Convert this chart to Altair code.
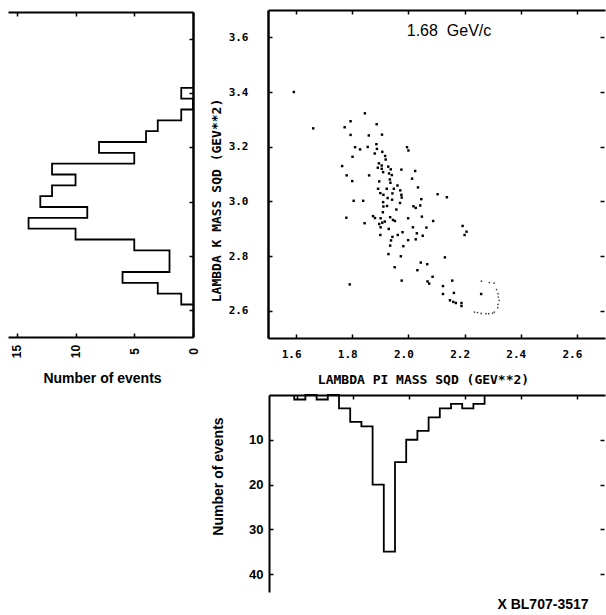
import altair as alt
import pandas as pd

# Events: Lambda-pi mass squared (x) and Lambda-K mass squared (y), GeV^2
event_m2_lpi = [
    1.592, 1.661, 1.845, 1.794, 1.773, 1.887, 1.794, 1.859, 1.906, 1.810,
    1.828, 1.855, 1.886, 1.888, 1.880, 1.907, 1.995, 2.000, 1.801, 1.917,
    1.919, 1.895, 1.764, 1.891, 1.905, 1.905, 1.928, 1.937, 1.975, 2.024,
    1.910, 1.931, 1.941, 1.780, 1.860, 2.013, 1.934, 1.800, 1.896, 1.936,
    1.961, 2.034, 1.892, 1.923, 1.948, 1.971, 1.900, 1.911, 1.943, 1.975,
    1.926, 1.942, 1.976, 2.104, 1.805, 1.839, 1.910, 1.970, 2.046, 1.911,
    1.924, 2.018, 2.026, 2.042, 1.957, 1.909, 1.779, 1.874, 1.881, 1.901,
    1.935, 1.945, 1.952, 1.999, 2.048, 2.088, 1.844, 1.896, 1.907, 1.916,
    1.901, 1.930, 2.016, 2.064, 1.979, 2.030, 1.900, 1.962, 1.943, 2.051,
    1.938, 1.999, 2.026, 1.935, 1.982, 1.929, 1.973, 2.044, 2.067, 2.130,
    1.951, 2.032, 2.086, 1.976, 2.068, 2.074, 2.123, 2.156, 2.162, 2.123,
    2.148, 2.160, 2.169, 2.189, 2.189, 2.137, 2.193, 2.200, 2.207, 1.791,
    2.259,
]
event_m2_lk = [
    3.400, 3.267, 3.322, 3.293, 3.271, 3.282, 3.243, 3.241, 3.244, 3.198,
    3.190, 3.199, 3.209, 3.192, 3.175, 3.181, 3.198, 3.186, 3.163, 3.166,
    3.153, 3.139, 3.129, 3.123, 3.131, 3.119, 3.127, 3.117, 3.116, 3.111,
    3.107, 3.102, 3.096, 3.095, 3.095, 3.083, 3.080, 3.074, 3.073, 3.068,
    3.058, 3.051, 3.046, 3.046, 3.046, 3.040, 3.030, 3.024, 3.029, 3.024,
    3.012, 3.006, 3.014, 3.026, 3.002, 3.002, 2.997, 2.994, 3.008, 2.981,
    2.983, 2.982, 2.976, 2.985, 2.970, 2.960, 2.940, 2.946, 2.939, 2.938,
    2.942, 2.932, 2.928, 2.938, 2.944, 2.928, 2.920, 2.917, 2.922, 2.926,
    2.905, 2.899, 2.905, 2.904, 2.887, 2.883, 2.877, 2.877, 2.870, 2.874,
    2.857, 2.858, 2.861, 2.838, 2.836, 2.807, 2.799, 2.776, 2.770, 2.795,
    2.759, 2.748, 2.724, 2.710, 2.707, 2.699, 2.690, 2.710, 2.665, 2.661,
    2.638, 2.632, 2.628, 2.628, 2.617, 3.015, 2.910, 2.877, 2.889, 2.696,
    2.661,
]

# Dotted contour in the lower right of the scatter panel
contour_m2_lpi = [2.260, 2.288, 2.305, 2.314, 2.319, 2.320, 2.323, 2.319,
                  2.318, 2.306, 2.300, 2.286, 2.276, 2.259, 2.246, 2.235]
contour_m2_lk = [2.708, 2.703, 2.701, 2.677, 2.662, 2.650, 2.638, 2.623,
                 2.611, 2.595, 2.591, 2.589, 2.589, 2.590, 2.593, 2.595]

# Lambda-pi projection, 0.04 GeV^2 bins
lpi_bin_start = 1.59
lpi_bin_width = 0.04
lpi_counts = [1, 0, 1, 0, 3, 6, 7, 20, 35, 15, 10, 8, 5, 3, 2, 3, 2]

# Lambda-K projection, 0.04 GeV^2 bins
lk_bin_start = 2.62
lk_bin_width = 0.04
lk_counts = [1, 3, 6, 2, 2, 5, 10, 14, 9, 13, 12, 10, 12, 5, 8, 4, 3, 1, 0, 1]

# Axis ticks
mass_lpi_ticks = [1.6, 1.8, 2.0, 2.2, 2.4, 2.6]
mass_lk_ticks = [2.6, 2.8, 3.0, 3.2, 3.4, 3.6]
lpi_count_ticks = [10, 20, 30, 40]
lk_count_ticks = [0, 5, 10, 15]


def step_outline(start, width, counts):
    """Vertices of an unfilled histogram outline, in drawing order."""
    rows = [(round(start, 3), 0)]
    for i, c in enumerate(counts):
        lo = round(start + i * width, 3)
        hi = round(start + (i + 1) * width, 3)
        rows.append((lo, c))
        rows.append((hi, c))
    rows.append((round(start + len(counts) * width, 3), 0))
    return pd.DataFrame({"edge": [r[0] for r in rows],
                         "n": [r[1] for r in rows],
                         "k": list(range(len(rows)))})


events = pd.DataFrame({"m2_lpi": event_m2_lpi, "m2_lk": event_m2_lk})
contour = pd.DataFrame({"m2_lpi": contour_m2_lpi, "m2_lk": contour_m2_lk})
lpi_steps = step_outline(lpi_bin_start, lpi_bin_width, lpi_counts)
lk_steps = step_outline(lk_bin_start, lk_bin_width, lk_counts)

W, H = 606, 615
MONO = "DejaVu Sans Mono"
SANS = "Liberation Sans"


def ax(**kw):
    base = dict(grid=False, labelFlush=False, labelOverlap=False,
                tickColor="black", domainColor="black", labelColor="black",
                titleColor="black", tickWidth=1.5, domainWidth=2, tickSize=4)
    base.update(kw)
    return alt.Axis(**base)


# Scales placed directly in page coordinates
sc_x = alt.Scale(domain=[1.5, 2.7], range=[268, 605], nice=False, zero=False)
sc_y = alt.Scale(domain=[2.5, 3.7], range=[338, 10], nice=False, zero=False)
bh_x = alt.Scale(domain=[1.5, 2.7], range=[269, 605], nice=False, zero=False)
bh_y = alt.Scale(domain=[0, 44], range=[395, 592], nice=False, zero=False)
lh_x = alt.Scale(domain=[0, 15.75], range=[193, 8], nice=False, zero=False)
lh_y = alt.Scale(domain=[2.5, 3.7], range=[337, 12], nice=False, zero=False)

mono_label = dict(labelFont=MONO, labelFontSize=11, labelFontWeight="bold")
mono_title = dict(titleFont=MONO, titleFontSize=13, titleFontWeight="bold",
                  titleAlign="center", titleBaseline="middle")
sans_title = dict(titleFont=SANS, titleFontSize=14, titleFontWeight="bold",
                  titleAlign="center", titleBaseline="middle")

# Scatter panel: bottom and left frame with labels
scatter = alt.Chart(events).mark_square(size=6, color="black", opacity=1).encode(
    x=alt.X("m2_lpi:Q", scale=sc_x,
            axis=ax(orient="top", offset=-338, values=mass_lpi_ticks, format=".1f",
                    labelPadding=-14, labelBaseline="top", labelAlign="center",
                    labelOffset=-5, **mono_label,
                    title="LAMBDA PI MASS SQD (GEV**2)", titleX=423, titleY=41,
                    titleAngle=0, **mono_title)),
    y=alt.Y("m2_lk:Q", scale=sc_y,
            axis=ax(orient="right", offset=-338, values=mass_lk_ticks, format=".1f",
                    labelPadding=-24, labelAlign="right", labelBaseline="middle",
                    domainWidth=2.5, **mono_label,
                    title="LAMBDA K MASS SQD (GEV**2)", titleX=-52, titleY=200,
                    titleAngle=270, **mono_title)),
)

# Scatter panel: top frame and right-hand ticks, plus the dotted contour
contour_layer = alt.Chart(contour).mark_circle(size=3, color="#333333", opacity=0.9).encode(
    x=alt.X("m2_lpi:Q", scale=sc_x, title=None,
            axis=ax(orient="bottom", offset=-605, values=mass_lpi_ticks, labels=False)),
    y=alt.Y("m2_lk:Q", scale=sc_y, title=None,
            axis=ax(orient="left", offset=-604, values=mass_lk_ticks, labels=False,
                    domain=False)),
)

# Lambda-pi projection hanging below the scatter
lpi_hist = alt.Chart(lpi_steps).mark_line(color="black", strokeWidth=1.8).encode(
    x=alt.X("edge:Q", scale=bh_x, title=None,
            axis=ax(orient="bottom", offset=-220, values=mass_lpi_ticks, labels=False)),
    y=alt.Y("n:Q", scale=bh_y,
            axis=ax(orient="right", offset=-337, values=lpi_count_ticks,
                    labelPadding=-10, labelAlign="right", labelBaseline="middle",
                    labelFont=SANS, labelFontSize=13, labelFontWeight="bold",
                    title="Number of events", titleX=-51, titleY=476,
                    titleAngle=270, **sans_title)),
    order="k:Q",
)
lpi_hist_right = alt.Chart(lpi_steps).mark_line(opacity=0).encode(
    x=alt.X("edge:Q", scale=bh_x, axis=None),
    y=alt.Y("n:Q", scale=bh_y, title=None,
            axis=ax(orient="left", offset=-604, values=lpi_count_ticks, labels=False,
                    domain=False)),
    order="k:Q",
)

# Lambda-K projection to the left of the scatter
lk_hist = alt.Chart(lk_steps).mark_line(color="black", strokeWidth=1.8).encode(
    x=alt.X("n:Q", scale=lh_x,
            axis=ax(orient="top", offset=-337, values=lk_count_ticks,
                    labelAngle=270, labelAlign="center", labelBaseline="middle",
                    labelPadding=-18, labelFont=SANS, labelFontSize=12,
                    labelFontWeight="bold",
                    title="Number of events", titleX=102, titleY=41,
                    titleAngle=0, **sans_title)),
    y=alt.Y("edge:Q", scale=lh_y, title=None,
            axis=ax(orient="left", offset=-193, values=mass_lk_ticks, labels=False,
                    domainWidth=2.5)),
    order="k:Q",
)
lk_hist_top = alt.Chart(lk_steps).mark_line(opacity=0).encode(
    x=alt.X("n:Q", scale=lh_x, title=None,
            axis=ax(orient="bottom", offset=-603, values=lk_count_ticks, labels=False)),
    y=alt.Y("edge:Q", scale=lh_y, axis=None),
    order="k:Q",
)

beam = alt.Chart(pd.DataFrame({"t": ["1.68\u00a0\u00a0GeV/c"]})).mark_text(
    font=SANS, fontSize=16, align="center", baseline="middle", color="black"
).encode(text="t:N", x=alt.value(449), y=alt.value(31))

figure_id = alt.Chart(pd.DataFrame({"t": ["X BL707-3517"]})).mark_text(
    font=SANS, fontSize=14, fontWeight="bold", align="center", baseline="middle",
    color="black"
).encode(text="t:N", x=alt.value(543), y=alt.value(605))

chart = alt.layer(
    scatter, contour_layer, lpi_hist, lpi_hist_right, lk_hist, lk_hist_top,
    beam, figure_id,
).resolve_scale(
    x="independent", y="independent"
).resolve_axis(
    x="independent", y="independent"
).properties(
    width=W, height=H, padding=0,
    autosize=alt.AutoSizeParams(type="none"),
    background="white",
).configure_view(stroke=None)

chart.save("out.html", embed_options={"renderer": "svg", "actions": False})
